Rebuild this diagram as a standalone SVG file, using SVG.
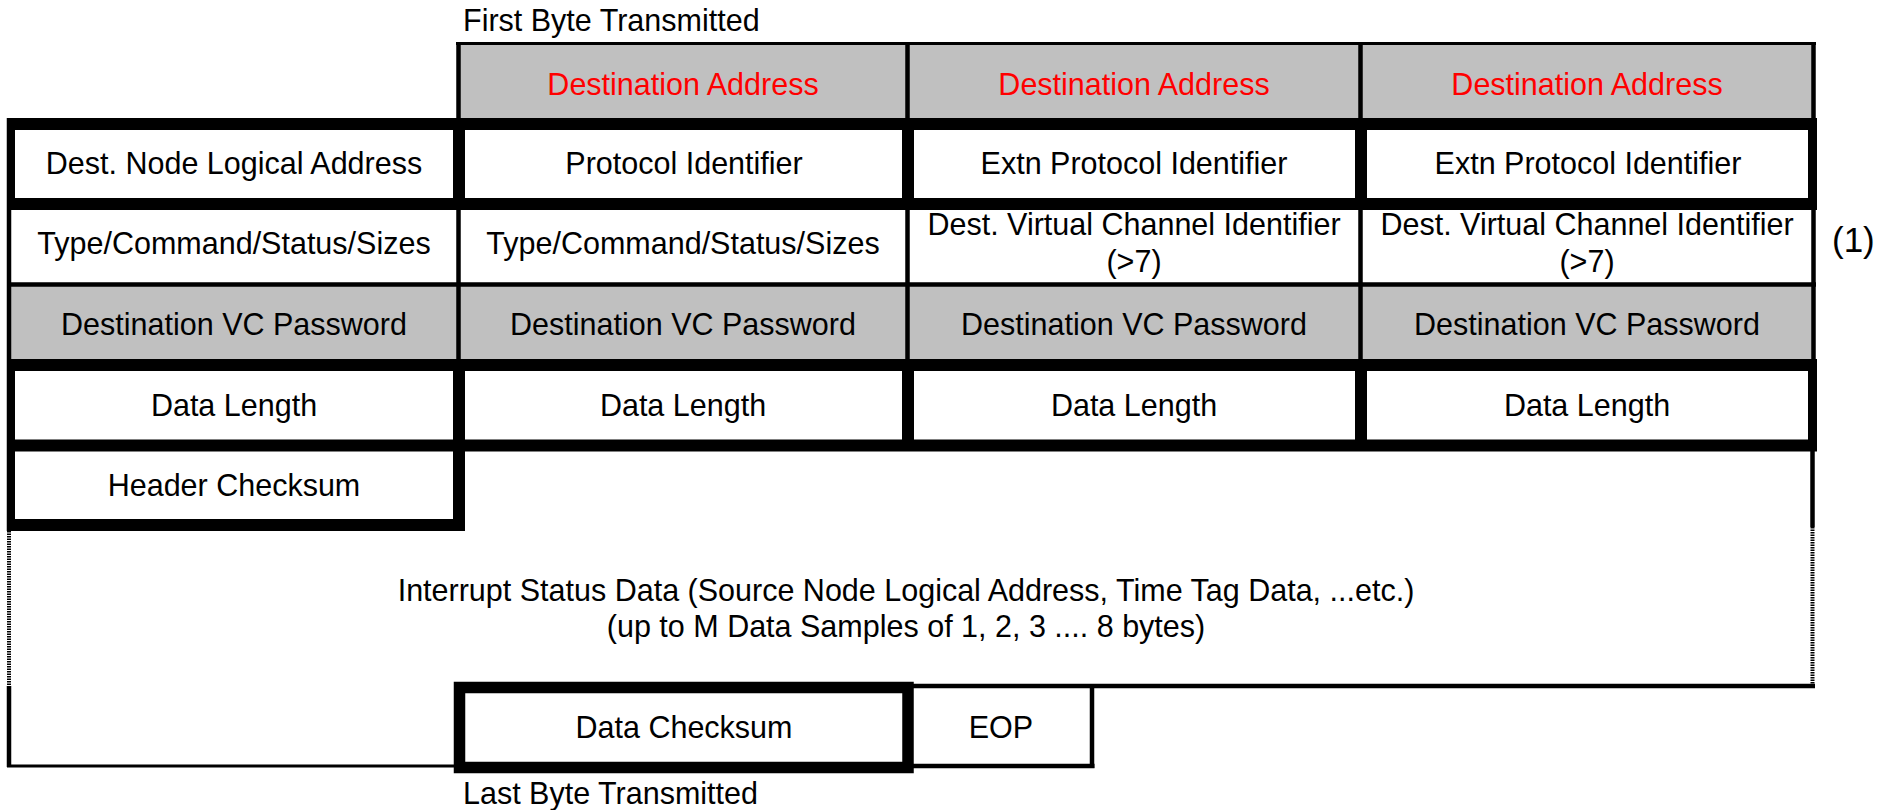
<svg xmlns="http://www.w3.org/2000/svg" width="1879" height="810" viewBox="0 0 1879 810">
  <style>
    text { font-family: "Liberation Sans", Arial, sans-serif; font-size: 30.5px; fill: #000; }
    .c { text-anchor: middle; }
    .red { fill: #ff0000; }
    .gray { fill: #c0c0c0; }
    .white { fill: #ffffff; }
    .thin { stroke: #000; stroke-width: 4.5; fill: none; }
    .thick { stroke: #000; stroke-width: 12; fill: none; }
    .hair { stroke: #000; stroke-width: 3; fill: none; }
    .dot { stroke: #000; stroke-width: 4; stroke-dasharray: 1.5 1; fill: none; }
    text.note { font-size: 35px; }
  </style>

  <rect x="0" y="0" width="1879" height="810" fill="#ffffff"/>

  <!-- labels outside the frame -->
  <text id="first-byte" x="463" y="31">First Byte Transmitted</text>
  <text id="last-byte" x="463" y="804">Last Byte Transmitted</text>
  <text id="note-1" class="note" x="1832" y="252">(1)</text>

  <!-- row 1: destination address (three columns) -->
  <g id="dest-addr-2"><rect class="gray" x="458.5" y="43.5" width="449" height="80.5"/><text class="c red" x="683" y="95">Destination Address</text></g>
  <g id="dest-addr-3"><rect class="gray" x="907.5" y="43.5" width="453" height="80.5"/><text class="c red" x="1134" y="95">Destination Address</text></g>
  <g id="dest-addr-4"><rect class="gray" x="1360.5" y="43.5" width="453" height="80.5"/><text class="c red" x="1587" y="95">Destination Address</text></g>

  <!-- row 2 -->
  <g id="dest-node-addr"><rect class="white" x="9" y="124" width="449.5" height="80"/><text class="c" x="234" y="174">Dest. Node Logical Address</text></g>
  <g id="protocol-id"><rect class="white" x="458.5" y="124" width="449" height="80"/><text class="c" x="684" y="174">Protocol Identifier</text></g>
  <g id="extn-protocol-id-3"><rect class="white" x="907.5" y="124" width="453" height="80"/><text class="c" x="1134" y="174">Extn Protocol Identifier</text></g>
  <g id="extn-protocol-id-4"><rect class="white" x="1360.5" y="124" width="453" height="80"/><text class="c" x="1588" y="174">Extn Protocol Identifier</text></g>

  <!-- row 3 -->
  <g id="type-cmd-1"><rect class="white" x="9" y="204" width="449.5" height="80.5"/><text class="c" x="234" y="254">Type/Command/Status/Sizes</text></g>
  <g id="type-cmd-2"><rect class="white" x="458.5" y="204" width="449" height="80.5"/><text class="c" x="683" y="254">Type/Command/Status/Sizes</text></g>
  <g id="dest-vc-id-3"><rect class="white" x="907.5" y="204" width="453" height="80.5"/><text class="c" x="1134" y="235">Dest. Virtual Channel Identifier</text><text class="c" x="1134" y="272">(&gt;7)</text></g>
  <g id="dest-vc-id-4"><rect class="white" x="1360.5" y="204" width="453" height="80.5"/><text class="c" x="1587" y="235">Dest. Virtual Channel Identifier</text><text class="c" x="1587" y="272">(&gt;7)</text></g>

  <!-- row 4: passwords -->
  <g id="vc-password-1"><rect class="gray" x="9" y="284.5" width="449.5" height="80.5"/><text class="c" x="234" y="335">Destination VC Password</text></g>
  <g id="vc-password-2"><rect class="gray" x="458.5" y="284.5" width="449" height="80.5"/><text class="c" x="683" y="335">Destination VC Password</text></g>
  <g id="vc-password-3"><rect class="gray" x="907.5" y="284.5" width="453" height="80.5"/><text class="c" x="1134" y="335">Destination VC Password</text></g>
  <g id="vc-password-4"><rect class="gray" x="1360.5" y="284.5" width="453" height="80.5"/><text class="c" x="1587" y="335">Destination VC Password</text></g>

  <!-- row 5: data length -->
  <g id="data-length-1"><rect class="white" x="9" y="365" width="449.5" height="80.5"/><text class="c" x="234" y="416">Data Length</text></g>
  <g id="data-length-2"><rect class="white" x="458.5" y="365" width="449" height="80.5"/><text class="c" x="683" y="416">Data Length</text></g>
  <g id="data-length-3"><rect class="white" x="907.5" y="365" width="453" height="80.5"/><text class="c" x="1134" y="416">Data Length</text></g>
  <g id="data-length-4"><rect class="white" x="1360.5" y="365" width="453" height="80.5"/><text class="c" x="1587" y="416">Data Length</text></g>

  <!-- row 6 -->
  <g id="header-checksum"><rect class="white" x="9" y="445.5" width="450" height="80"/><text class="c" x="234" y="496">Header Checksum</text></g>

  <!-- payload area -->
  <g id="interrupt-data">
    <text class="c" x="906" y="601">Interrupt Status Data (Source Node Logical Address, Time Tag Data, ...etc.)</text>
    <text class="c" x="906" y="637">(up to M Data Samples of 1, 2, 3 .... 8 bytes)</text>
  </g>

  <!-- trailer -->
  <g id="data-checksum"><rect class="white" x="459.5" y="687.5" width="448.5" height="80"/><text class="c" x="684" y="738">Data Checksum</text></g>
  <g id="eop"><rect class="white" x="908" y="686" width="184" height="80"/><text class="c" x="1001" y="738">EOP</text></g>

  <!-- cell borders -->
  <g id="borders">
    <!-- horizontal rules -->
    <line class="hair" x1="456" y1="43.5" x2="1816" y2="43.5"/>
    <line class="thick" x1="7" y1="124" x2="1817" y2="124"/>
    <line class="thick" x1="7" y1="204" x2="1817" y2="204"/>
    <line class="thin" x1="7" y1="284.5" x2="1816" y2="284.5"/>
    <line class="thick" x1="7" y1="365" x2="1817" y2="365"/>
    <line class="thick" x1="7" y1="445.5" x2="1817" y2="445.5"/>
    <line class="thick" x1="7" y1="525" x2="465" y2="525"/>

    <!-- outer left edge -->
    <line class="thin" x1="9" y1="118" x2="9" y2="531"/>
    <line class="thick" x1="11" y1="118" x2="11" y2="210" style="stroke-width:8"/>
    <line class="thick" x1="11" y1="359" x2="11" y2="531" style="stroke-width:8"/>
    <line class="dot" x1="9" y1="531" x2="9" y2="686"/>
    <line class="thin" x1="9" y1="686" x2="9" y2="767"/>

    <!-- outer right edge -->
    <line class="thin" x1="1813.5" y1="42" x2="1813.5" y2="451"/>
    <line class="thick" x1="1812.5" y1="118" x2="1812.5" y2="210" style="stroke-width:9"/>
    <line class="thick" x1="1812.5" y1="359" x2="1812.5" y2="451" style="stroke-width:9"/>
    <line class="thin" x1="1812.5" y1="451" x2="1812.5" y2="527"/>
    <line class="dot" x1="1812.5" y1="527" x2="1812.5" y2="686"/>

    <!-- column dividers -->
    <line class="thin" x1="458.5" y1="42" x2="458.5" y2="365"/>
    <line class="thick" x1="459" y1="118" x2="459" y2="210"/>
    <line class="thick" x1="459" y1="359" x2="459" y2="531"/>
    <line class="thin" x1="907.5" y1="43.5" x2="907.5" y2="365"/>
    <line class="thick" x1="908" y1="118" x2="908" y2="210"/>
    <line class="thick" x1="908" y1="359" x2="908" y2="451"/>
    <line class="thin" x1="1360.5" y1="43.5" x2="1360.5" y2="365"/>
    <line class="thick" x1="1361" y1="118" x2="1361" y2="210"/>
    <line class="thick" x1="1361" y1="359" x2="1361" y2="451"/>

    <!-- payload / trailer outline -->
    <line class="thin" x1="906" y1="686" x2="1815" y2="686"/>
    <line class="hair" x1="7" y1="766" x2="460" y2="766"/>
    <line class="thin" x1="908" y1="766" x2="1094.5" y2="766"/>
    <line class="thin" x1="1092" y1="684" x2="1092" y2="768"/>
    <rect class="thick" x="459.5" y="687.5" width="448.5" height="80" style="stroke-width:11.5"/>
  </g>
</svg>
